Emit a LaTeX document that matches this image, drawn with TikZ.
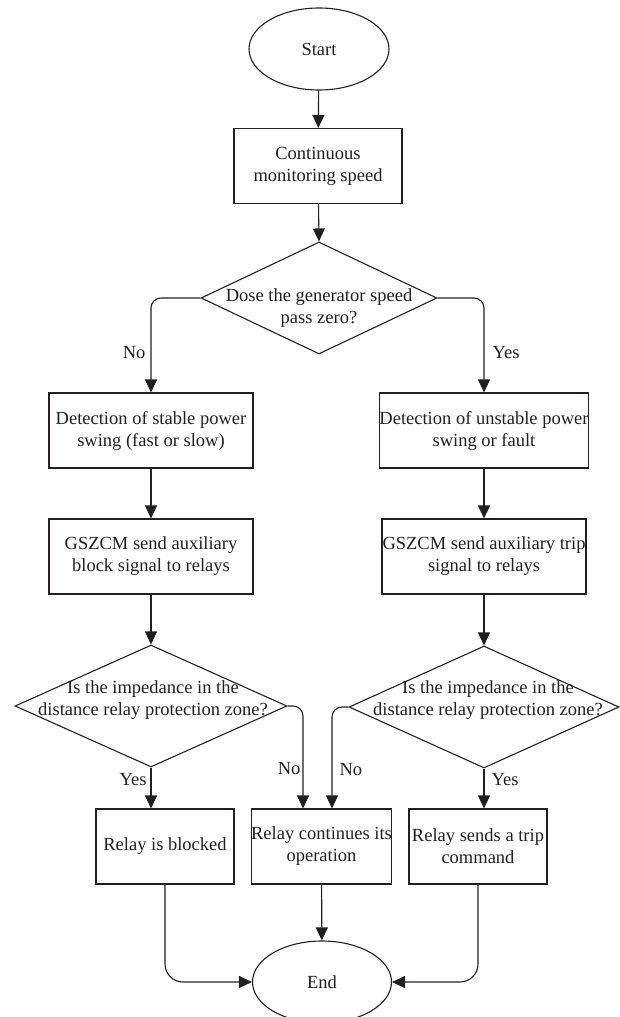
\documentclass[tikz,border=0pt]{standalone}
\usepackage{fontspec}
\setmainfont{Liberation Serif}
\usetikzlibrary{shapes.geometric,arrows.meta}
\definecolor{ink}{HTML}{231F20}
\begin{document}
\begin{tikzpicture}[x=1pt,y=-1pt, line width=1.1pt, draw=ink, text=ink,
  font=\fontsize{18.5}{22}\selectfont,
  box/.style={draw, rectangle, inner sep=0pt, align=center},
  term/.style={draw, ellipse, inner sep=0pt},
  dia/.style={draw, diamond, inner sep=0pt},
  txt/.style={inner sep=0pt, align=center},
  arr/.style={-{Triangle[length=13pt,width=12pt]}},
  lbl/.style={inner sep=0pt}]
\useasboundingbox (0,0) rectangle (620,1017);

% nodes
\node[term, minimum width=140pt, minimum height=82pt] (start) at (319,49) {Start};
\node[box, minimum width=168pt, minimum height=75pt] (cms) at (318,166) {Continuous\\monitoring speed};
\node[dia, minimum width=236pt, minimum height=112pt] (d1) at (319,298) {};
\node[txt] (d1t) at (319,308) {Dose the generator speed\\pass zero?};

\node[box, minimum width=204pt, minimum height=75pt] (lb1) at (151,430.5) {Detection of stable power\\swing (fast or slow)};
\node[box, minimum width=204pt, minimum height=75pt] (rb1) at (484,430.5) {Detection of unstable power\\swing or fault};

\node[box, minimum width=204pt, minimum height=75pt] (lb2) at (151,556.5) {GSZCM send auxiliary\\block signal to relays};
\node[box, minimum width=204pt, minimum height=75pt] (rb2) at (484,556.5) {GSZCM send auxiliary trip\\signal to relays};

\node[dia, minimum width=272pt, minimum height=122pt] (ld) at (151,706) {};
\node[txt] (ldt) at (153,700) {Is the impedance in the\\distance relay protection zone?};
\node[dia, minimum width=270pt, minimum height=122pt] (rd) at (484,707) {};
\node[txt] (rdt) at (488,700) {Is the impedance in the\\distance relay protection zone?};

\node[box, minimum width=138pt, minimum height=75pt] (bx1) at (165,846.5) {Relay is blocked};
\node[box, minimum width=139pt, minimum height=75pt] (bx2) at (321.5,846.5) {Relay continues its\\operation};
\node[box, minimum width=138pt, minimum height=75pt] (bx3) at (478,846.5) {Relay sends a trip\\command};

\node[term, minimum width=139pt, minimum height=82pt] (end) at (322,982) {End};

% labels
\node[lbl, anchor=east] (lno1) at (146,353) {No};
\node[lbl, anchor=west] (lyes1) at (492,353) {Yes};
\node[lbl, anchor=east] (lyes2) at (147,780) {Yes};
\node[lbl, anchor=east] (lno2) at (301,769) {No};
\node[lbl, anchor=west] (lno3) at (339,770) {No};
\node[lbl, anchor=west] (lyes3) at (491,780) {Yes};

\coordinate (in2a) at ([xshift=-18.5pt]bx2.north);
\coordinate (in2b) at ([xshift=10.5pt]bx2.north);

% connectors
\draw[arr] (start) -- (cms);
\draw[arr] (cms) -- (d1.north);
\draw[arr, rounded corners=10pt] (d1.west) -| (lb1.north);
\draw[arr, rounded corners=10pt] (d1.east) -| (rb1.north);
\draw[arr] (lb1) -- (lb2);
\draw[arr] (rb1) -- (rb2);
\draw[arr] (lb2.south) -- (ld.north);
\draw[arr] (rb2.south) -- (rd.north);
\draw[arr] (ld.south) -- (ld.south |- bx1.north);
\draw[arr, rounded corners=10pt] (ld.east) -| (in2a);
\draw[arr, rounded corners=10pt] (rd.west) -| (in2b);
\draw[arr] (rd.south) -- (rd.south |- bx3.north);
\draw[arr] (bx2) -- (end);
\draw[arr, rounded corners=18pt] (bx1.south) |- (end.west);
\draw[arr, rounded corners=18pt] (bx3.south) |- (end.east);
\end{tikzpicture}
\end{document}
